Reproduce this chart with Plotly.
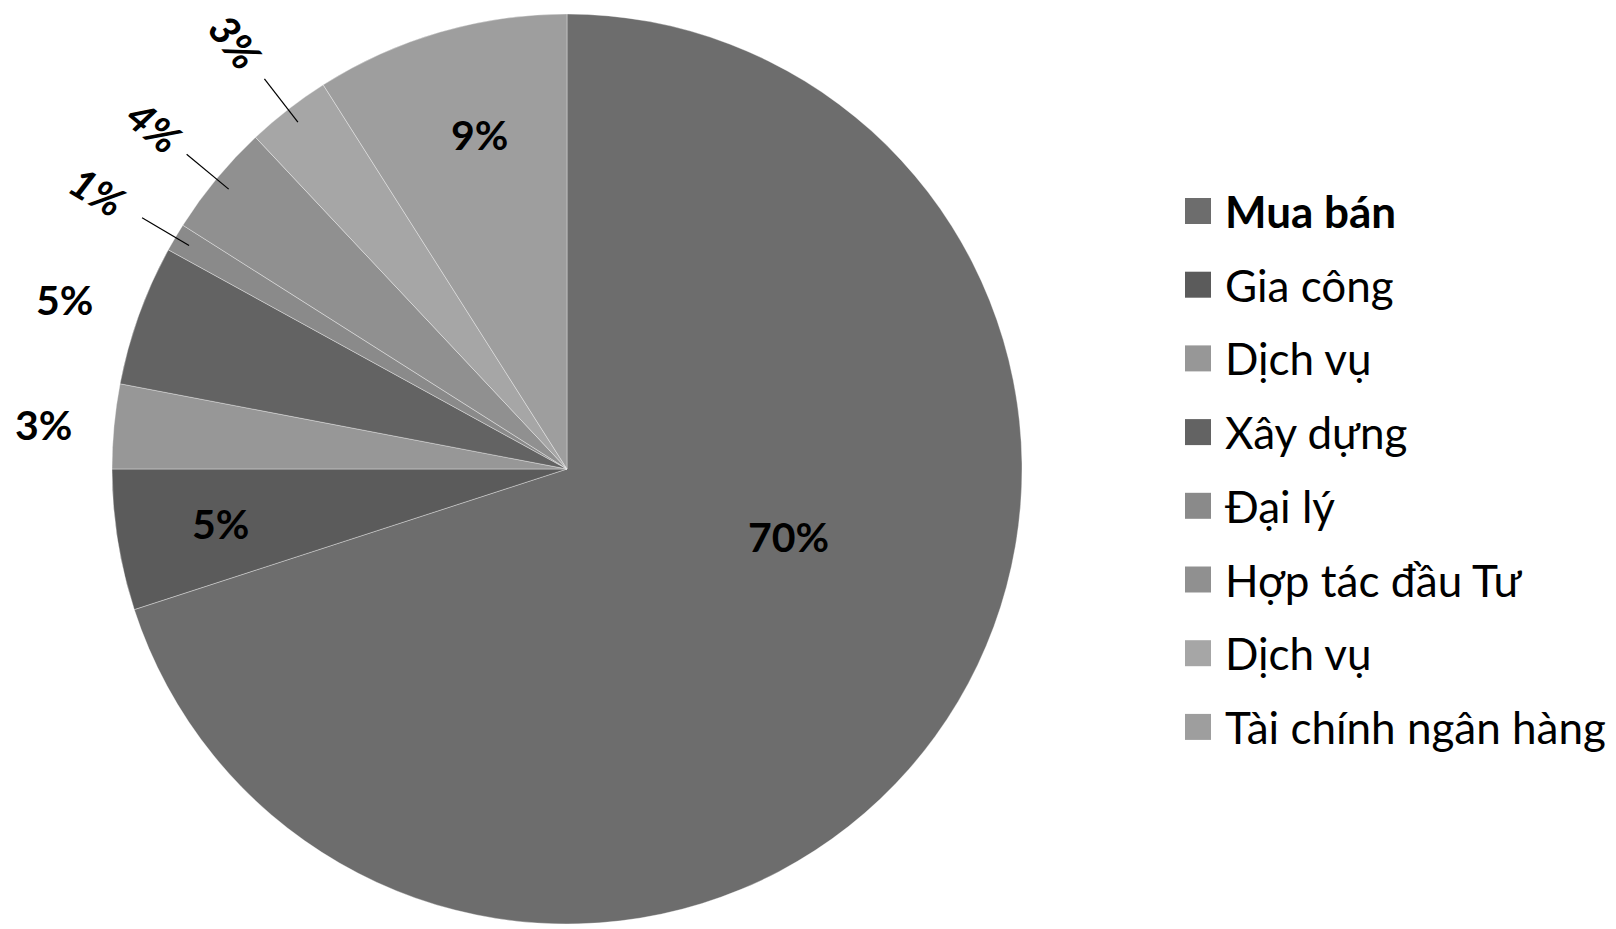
import math
import plotly.graph_objects as go

# ---- data ----
labels = ["Mua bán", "Gia công", "Dịch vụ", "Xây dựng", "Đại lý",
          "Hợp tác đầu Tư", "Dịch vụ", "Tài chính ngân hàng"]
values = [70, 5, 3, 5, 1, 4, 3, 9]
pct_text = ["70%", "5%", "3%", "5%", "1%", "4%", "3%", "9%"]
colors = ["#6d6d6d", "#5b5b5b", "#979797", "#636363", "#8a8a8a",
          "#909090", "#a6a6a6", "#9e9e9e"]

# ---- layout / style parameters ----
W, H = 1616, 929
CX, CY, R = 567, 469, 455
label_radius = [0.51, 0.77, 1.155, 1.165, 1.20, 1.18, 1.19, 0.76]
label_angle_shift = [-19, 0, -0.5, -1.2, 0, 0, 0, 1.5]
label_rotated = [False, False, False, False, True, True, True, False]
leader = [False, False, False, False, True, True, True, False]
PCT_FONT = "Lato"
PCT_SIZE = 41
LEG_SIZE = 44
LEG_X_SQ = 1185
LEG_SQ = 26
LEG_X_TXT = 1223
LEG_Y0 = 211
LEG_DY = 73.7


def px(x):
    return x / W


def py(y):
    return 1 - y / H


# unique keys so duplicated category names are not merged
keys = []
for i, l in enumerate(labels):
    k = l
    while k in keys:
        k += "\u200b"
    keys.append(k)

fig = go.Figure()
fig.add_trace(go.Pie(
    labels=keys,
    values=values,
    sort=False,
    direction="clockwise",
    rotation=0,
    marker=dict(colors=colors, line=dict(color="rgba(255,255,255,0.35)", width=1)),
    textinfo="none",
    hovertemplate="%{label}: %{percent}<extra></extra>",
    domain=dict(x=[px(CX - R), px(CX + R)], y=[py(CY + R), py(CY - R)]),
    showlegend=False,
))

total = sum(values)
annotations = []
shapes = []
cum = 0
for i, v in enumerate(values):
    mid = (cum + v / 2) / total * 360.0
    cum += v
    th = math.radians(mid + label_angle_shift[i])
    rr = label_radius[i] * R
    x = CX + rr * math.sin(th)
    y = CY - rr * math.cos(th)
    txt = pct_text[i]
    ang = 0
    if label_rotated[i]:
        txt = "<i>" + txt + "</i>"
        ang = mid - 270
    annotations.append(dict(
        x=px(x), y=py(y), xref="paper", yref="paper", text="<b>" + txt + "</b>",
        showarrow=False, textangle=ang, xanchor="center", yanchor="middle",
        font=dict(family=PCT_FONT, size=PCT_SIZE, color="black")))
    if leader[i]:
        thm = math.radians(mid)
        r1, r2 = 0.965 * R, 1.085 * R
        shapes.append(dict(
            type="line", xref="paper", yref="paper",
            x0=px(CX + r1 * math.sin(thm)), y0=py(CY - r1 * math.cos(thm)),
            x1=px(CX + r2 * math.sin(thm)), y1=py(CY - r2 * math.cos(thm)),
            line=dict(color="black", width=1.2)))

# manual legend
for i, l in enumerate(labels):
    yc = LEG_Y0 + i * LEG_DY
    shapes.append(dict(
        type="rect", xref="paper", yref="paper",
        x0=px(LEG_X_SQ), x1=px(LEG_X_SQ + LEG_SQ),
        y0=py(yc + LEG_SQ / 2), y1=py(yc - LEG_SQ / 2),
        fillcolor=colors[i], line=dict(width=0)))
    t = "<b>" + l + "</b>" if i == 0 else l
    annotations.append(dict(
        x=px(LEG_X_TXT), y=py(yc), xref="paper", yref="paper", text=t,
        showarrow=False, xanchor="left", yanchor="middle",
        font=dict(family="Lato", size=LEG_SIZE, color="black")))

fig.update_layout(
    width=W, height=H,
    margin=dict(l=0, r=0, t=0, b=0),
    paper_bgcolor="white", plot_bgcolor="white",
    annotations=annotations, shapes=shapes,
    showlegend=False,
)

fig.write_html("out.html",
               config={"displayModeBar": False},
               post_script="document.body.style.margin='0';document.body.style.overflow='hidden';")
